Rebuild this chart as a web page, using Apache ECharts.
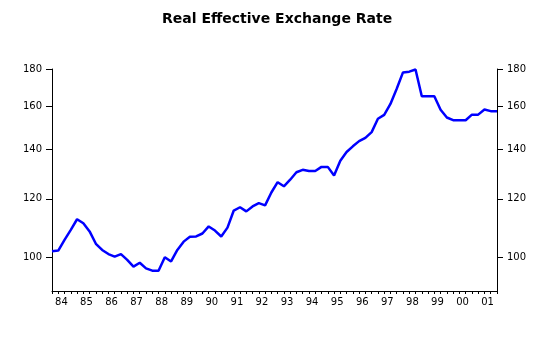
<!DOCTYPE html>
<html>
<head>
<meta charset="utf-8">
<script src="https://cdn.jsdelivr.net/npm/echarts@6/dist/echarts.min.js"></script>
<style>
html,body{margin:0;padding:0;background:#fff;}
#chart{width:552px;height:339px;}
</style>
</head>
<body>
<div id="chart"></div>
<script>
// Quarterly observations, 1984Q1 .. 2001Q4
var yearLabels = ['84','85','86','87','88','89','90','91','92','93','94','95','96','97','98','99','00','01'];
var reerValues = [
  101.9, 102.1, 105.6, 108.9,
  112.6, 111.2, 108.4, 104.3,
  102.3, 101.0, 100.2, 101.0,
  99.2, 97.1, 98.3, 96.6,
  95.9, 95.9, 100.0, 98.7,
  102.3, 105.0, 106.6, 106.7,
  107.7, 110.1, 108.7, 106.7,
  109.7, 115.7, 116.9, 115.4,
  117.2, 118.4, 117.6, 122.4,
  126.4, 124.8, 127.4, 130.4,
  131.4, 130.9, 130.9, 132.6,
  132.6, 129.1, 135.2, 138.9,
  141.4, 143.7, 145.2, 147.8,
  154.1, 156.0, 161.4, 169.2,
  178.1, 178.5, 179.7, 165.3,
  165.3, 165.3, 158.5, 154.7,
  153.4, 153.4, 153.4, 156.1,
  156.1, 158.6, 157.8, 157.8
];
var yTickValues = [100, 120, 140, 160, 180];
var yMin = 90, yMax = 180;
var titleText = 'Real Effective Exchange Rate';

var n = reerValues.length;
var seriesData = reerValues.map(function (v, i) { return [i, v]; });
var xTicks = [];
for (var i = 0; i < n; i++) xTicks.push(i);
var xLabelPos = yearLabels.map(function (_, k) { return k * 4 + 1.5; });

var fontFam = '"DejaVu Sans", Verdana, sans-serif';
var titleFont = 'bold 14px "DejaVu Sans", Verdana, sans-serif';

// centre the title over x = 272 (centre of reference title)
var cv = document.createElement('canvas').getContext('2d');
cv.font = titleFont;
var titleW = cv.measureText(titleText).width;

function yAxisCfg(pos) {
  return {
    type: 'log',
    logBase: 10,
    position: pos,
    min: yMin,
    max: yMax,
    splitLine: { show: false },
    axisLine: { show: true, lineStyle: { color: '#000', width: 1 } },
    axisTick: { show: true, length: 6, inside: false, customValues: yTickValues, lineStyle: { color: '#000' } },
    axisLabel: {
      show: true, margin: 10, color: '#000', fontSize: 10, fontFamily: fontFam,
      customValues: yTickValues,
      formatter: function (v) { return String(Math.round(v)); }
    },
    minorTick: { show: false },
    minorSplitLine: { show: false }
  };
}

var chart = echarts.init(document.getElementById('chart'), null, { renderer: 'canvas' });
chart.setOption({
  animation: false,
  backgroundColor: '#fff',
  title: {
    text: titleText,
    left: Math.round(272 - titleW / 2),
    top: 7,
    textStyle: { fontSize: 14, fontWeight: 'bold', color: '#000', fontFamily: fontFam }
  },
  grid: { left: 52, right: 55, top: 69, bottom: 48, containLabel: false },
  xAxis: {
    type: 'value',
    min: 0,
    max: n - 1,
    splitLine: { show: false },
    axisLine: { show: true, onZero: false, lineStyle: { color: '#000', width: 1 } },
    axisTick: { show: true, length: 3, customValues: xTicks, lineStyle: { color: '#000' } },
    axisLabel: {
      show: true, margin: 6, color: '#000', fontSize: 10, fontFamily: fontFam,
      customValues: xLabelPos,
      formatter: function (v) { return yearLabels[Math.round((v - 1.5) / 4)]; }
    }
  },
  yAxis: [yAxisCfg('left'), yAxisCfg('right')],
  series: [{
    type: 'line',
    yAxisIndex: 0,
    data: seriesData,
    showSymbol: false,
    symbol: 'none',
    lineStyle: { color: '#0000ff', width: 2.5 },
    itemStyle: { color: '#0000ff' }
  }]
});
</script>
</body>
</html>
